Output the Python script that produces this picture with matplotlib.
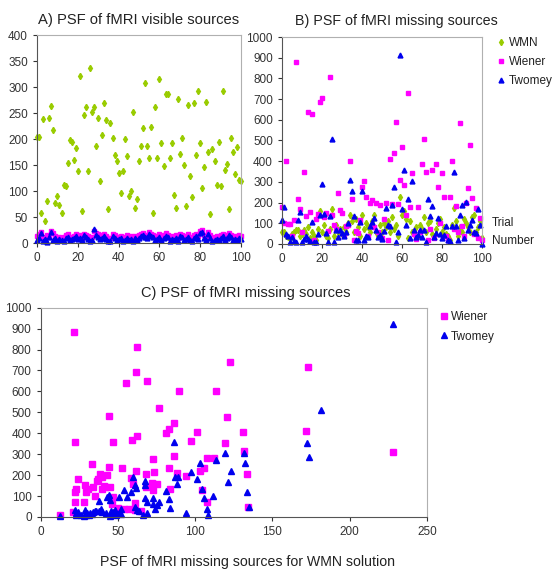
import numpy as np
import matplotlib
matplotlib.use("Agg")
import matplotlib.pyplot as plt

plt.rcParams['font.family'] = ['Liberation Sans', 'DejaVu Sans']

# A) visible sources, per trial 0..100
trial = list(range(101))
wmn_visible = [204, 203, 58, 238, 42, 80, 241, 263, 217, 77,
               90, 73, 58, 112, 109, 153, 198, 195, 160, 182,
               139, 322, 62, 247, 261, 138, 336, 252, 262, 186,
               240, 119, 207, 270, 236, 66, 231, 202, 169, 157,
               135, 96, 138, 200, 168, 91, 100, 252, 67, 84,
               157, 186, 222, 307, 186, 164, 224, 57, 261, 164,
               316, 193, 148, 286, 286, 164, 193, 93, 67, 276,
               171, 202, 150, 71, 266, 129, 88, 269, 170, 292,
               193, 105, 146, 272, 175, 55, 181, 157, 112, 195,
               109, 293, 140, 152, 65, 202, 175, 133, 184, 121, 120]
wiener_visible = [14, 18, 22, 12, 10, 15, 12, 24, 20, 14,
                  10, 12, 9, 11, 15, 18, 10, 12, 14, 17,
                  12, 15, 10, 18, 16, 14, 10, 12, 24, 20,
                  17, 12, 15, 18, 14, 10, 9, 18, 15, 11,
                  12, 14, 10, 12, 15, 11, 13, 10, 14, 12,
                  15, 18, 20, 16, 14, 22, 18, 16, 12, 14,
                  17, 12, 15, 20, 16, 10, 14, 12, 16, 10,
                  18, 16, 12, 14, 17, 12, 10, 15, 18, 14,
                  24, 25, 16, 12, 22, 15, 10, 12, 14, 12,
                  16, 18, 12, 15, 20, 16, 12, 14, 12, 16, 14]
twomey_visible = [5, 10, 20, 3, 8, 2, 12, 22, 6, 10,
                  4, 8, 6, 3, 9, 12, 5, 8, 10, 14,
                  7, 10, 5, 15, 12, 8, 4, 6, 26, 15,
                  12, 8, 10, 14, 8, 4, 3, 14, 10, 6,
                  7, 9, 4, 6, 10, 6, 8, 3, 9, 6,
                  10, 14, 15, 12, 9, 18, 14, 12, 6, 8,
                  12, 6, 10, 14, 12, 4, 8, 5, 10, 4,
                  14, 12, 6, 8, 12, 6, 3, 10, 14, 8,
                  20, 22, 10, 6, 18, 10, 4, 6, 8, 6,
                  10, 14, 6, 10, 16, 12, 6, 8, 6, 10, 8]

# B) missing sources, per trial 0..100
wmn_missing = [56, 56, 40, 34, 24, 50, 60, 69, 66, 40,
               50, 69, 48, 80, 30, 60, 40, 20, 70, 159,
               60, 90, 40, 30, 70, 170, 40, 90, 60, 70,
               50, 80, 60, 100, 140, 110, 60, 120, 80, 40,
               140, 70, 100, 80, 60, 110, 140, 60, 40, 90,
               60, 100, 80, 110, 60, 130, 70, 90, 40, 229,
               140, 160, 120, 30, 110, 60, 50, 80, 40, 90,
               70, 130, 60, 100, 110, 50, 40, 70, 100, 120,
               60, 80, 50, 40, 20, 90, 173, 110, 40, 80,
               60, 120, 100, 80, 60, 130, 140, 60, 80, 110, 30]
wiener_missing = [180, 100, 400, 96, 96, 40, 117, 878, 215, 170,
                  60, 350, 135, 640, 155, 630, 20, 120, 145, 685,
                  705, 128, 150, 64, 805, 140, 90, 70, 245, 162,
                  152, 45, 88, 90, 400, 218, 20, 62, 55, 117,
                  275, 305, 228, 40, 196, 212, 80, 200, 60, 190,
                  30, 120, 197, 20, 410, 192, 440, 590, 195, 310,
                  468, 287, 140, 730, 178, 342, 50, 25, 180, 60,
                  385, 505, 350, 20, 70, 356, 30, 387, 273, 100,
                  345, 229, 40, 20, 225, 400, 70, 185, 60, 585,
                  85, 40, 197, 270, 477, 221, 50, 175, 30, 127, 20]
twomey_missing = [117, 180, 50, 40, 8, 34, 15, 8, 117, 156,
                  8, 24, 40, 24, 16, 104, 8, 8, 48, 141,
                  289, 143, 53, 8, 133, 506, 8, 69, 34, 69,
                  53, 37, 56, 100, 310, 255, 133, 21, 21, 104,
                  258, 21, 40, 32, 88, 104, 124, 69, 32, 45,
                  24, 61, 175, 91, 85, 190, 273, 8, 60, 915,
                  169, 356, 91, 218, 27, 305, 69, 32, 45, 69,
                  32, 69, 8, 218, 133, 185, 32, 53, 125, 48,
                  27, 45, 85, 21, 13, 85, 348, 85, 21, 140,
                  190, 27, 201, 69, 93, 114, 56, 53, 169, 93, 0]

# C) missing sources vs WMN solution
c_wiener_x = [12.5, 21.6, 22.3, 22, 22, 23, 24, 28.3, 28.9, 29.5, 30.5,
              33, 34, 35, 36.2, 37, 38.5, 39.5, 40, 41.5, 42.7, 44, 44.4,
              41, 45, 47, 47, 52.6, 54, 55.2, 58.6, 59.1, 60, 61, 62, 62.5,
              62.5, 61.5, 61, 68.6, 68, 68, 72, 73, 73.5, 72.5, 73, 75, 76.3,
              80.9, 83.3, 86.3, 86.3, 83.3, 83.8, 88.4, 89.3, 94, 97.3, 101,
              103, 105.6, 104.3, 107.4, 107.8, 112, 113.2, 119, 120.8, 122.5,
              131, 131.6, 133.3, 134.2, 172, 173.2, 227.8, 21, 46, 50, 57, 65]
c_wiener_y = [10, 885, 357, 70, 120, 134, 181, 70, 155, 120, 134,
              252, 145, 100, 172, 181, 204, 193, 134, 142, 200, 484, 240,
              150, 142, 357, 97, 232, 38, 640, 186, 366, 156, 68, 691, 810,
              388, 220, 33, 650, 207, 145, 161, 275, 215, 129, 156, 156, 520,
              400, 422, 447, 293, 232, 134, 209, 600, 194, 363, 404,
              221, 232, 131, 70, 283, 283, 600, 353, 476, 739,
              408, 315, 204, 50, 412, 717, 309, 25, 60, 45, 40, 30]
c_twomey_x = [12.5, 22.2, 23, 22.6, 24, 29, 29.5, 31.5, 32, 34, 35, 36,
              37.7, 39, 40, 42, 42.7, 44, 44.9, 45.5, 46.5, 47.5, 49, 50.5,
              50.9, 52, 53.9, 55.6, 58.2, 60, 61, 62, 60.8, 62.5, 63.8, 66,
              67.3, 67.7, 67.3, 68.6, 69, 72.5, 72.9, 74, 75, 76.3, 80.9,
              83.3, 83.7, 86.3, 86.7, 88.9, 88.4, 94, 97, 101.4, 103.1,
              104.3, 105.6, 107.8, 108.2, 111.7, 113.2, 119.5, 121.2,
              122.9, 131.6, 132, 133.3, 134.6, 172.5, 173.8, 181.2, 228.2,
              26, 28, 30, 33, 38, 45, 48, 52]
c_twomey_y = [5, 33, 17, 8, 25, 33, 8, 8, 18, 25, 28, 30,
              78, 40, 22, 20, 94, 107, 81, 30, 22, 15, 8, 20,
              97, 40, 129, 97, 120, 190, 151, 137, 49, 33, 27, 11,
              172, 153, 89, 72, 21, 89, 62, 40, 56, 73, 126,
              88, 41, 357, 190, 190, 158, 21, 215, 183, 260,
              135, 91, 40, 11, 102, 272, 307, 169,
              221, 307, 260, 118, 49, 354, 287, 511, 920,
              10, 5, 20, 12, 30, 5, 35, 12]

GREEN = '#99CC00'
PINK = '#FF00FF'
BLUE = '#0000EE'
TXT = '#222222'


def style_axes(ax, ymax, ystep, xmax, xstep):
    ax.set_xlim(0, xmax)
    ax.set_ylim(0, ymax)
    ax.set_xticks(np.arange(0, xmax + 1, xstep))
    ax.set_yticks(np.arange(0, ymax + 1, ystep))
    ax.tick_params(labelsize=8.5, length=3, direction='out', colors='#333333',
                   labelcolor='#333333')
    for s in ['top', 'right']:
        ax.spines[s].set_color('#b0b0b0')
    for s in ['left', 'bottom']:
        ax.spines[s].set_color('#555555')
    for s in ax.spines.values():
        s.set_linewidth(0.8)


fig = plt.figure(figsize=(5.55, 5.71), dpi=100)

# panel A
axA = fig.add_axes([0.0667, 0.5744, 0.3676, 0.3643])
axA.plot(trial, wmn_visible, 'd', color=GREEN, ms=3.2, ls='none', clip_on=False)
axA.plot(trial, wiener_visible, 's', color=PINK, ms=3.5, ls='none', clip_on=False)
axA.plot(trial, twomey_visible, '^', color=BLUE, ms=3.5, ls='none', clip_on=False)
style_axes(axA, 400, 50, 100, 20)
axA.set_title('A) PSF of fMRI visible sources', fontsize=10.6, color=TXT, pad=8)

# panel B
axB = fig.add_axes([0.508, 0.5727, 0.3604, 0.3625])
axB.plot(trial, wmn_missing, 'd', color=GREEN, ms=3.2, ls='none', label='WMN', clip_on=False)
axB.plot(trial, wiener_missing, 's', color=PINK, ms=3.5, ls='none', label='Wiener', clip_on=False)
axB.plot(trial, twomey_missing, '^', color=BLUE, ms=3.5, ls='none', label='Twomey', clip_on=False)
style_axes(axB, 1000, 100, 100, 20)
axB.set_title('B) PSF of fMRI missing sources', fontsize=10.3, color=TXT, pad=9, x=0.57)
axB.legend(loc='upper left', bbox_to_anchor=(1.05, 1.03), frameon=False, fontsize=8.5,
           handlelength=0.6, handletextpad=0.35, labelspacing=0.6, borderpad=0,
           labelcolor=TXT)
axB.text(1.05, 0.10, 'Trial', transform=axB.transAxes, fontsize=8.5, color=TXT, va='center')
axB.text(1.05, 0.015, 'Number', transform=axB.transAxes, fontsize=8.5, color=TXT, va='center')

# panel C
axC = fig.add_axes([0.0733, 0.0946, 0.696, 0.3666])
axC.plot(c_wiener_x, c_wiener_y, 's', color=PINK, ms=3.8, ls='none', label='Wiener', clip_on=False)
axC.plot(c_twomey_x, c_twomey_y, '^', color=BLUE, ms=3.8, ls='none', label='Twomey', clip_on=False)
style_axes(axC, 1000, 100, 250, 50)
axC.set_title('C) PSF of fMRI missing sources', fontsize=10.5, color=TXT, pad=8, x=0.53)
axC.set_xlabel('PSF of fMRI missing sources for WMN solution', fontsize=10.2,
               color=TXT, labelpad=12, x=0.535)
axC.legend(loc='upper left', bbox_to_anchor=(1.02, 1.01), frameon=False, fontsize=8.5,
           handlelength=0.6, handletextpad=0.3, labelspacing=0.6, borderpad=0,
           labelcolor=TXT)

fig.savefig('out.png', dpi=100)
